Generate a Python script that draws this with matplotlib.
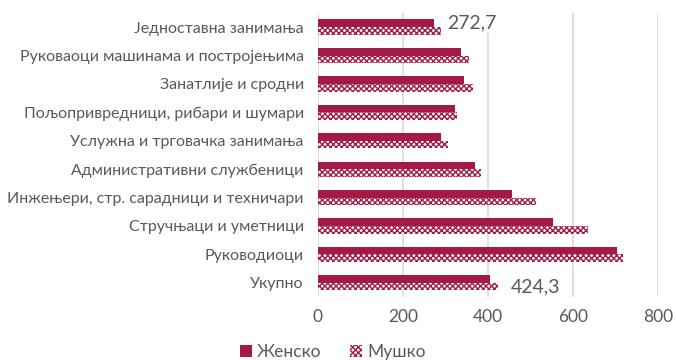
import numpy as np
import matplotlib.pyplot as plt

plt.rcParams['font.family'] = ['Lato', 'Noto Sans', 'DejaVu Sans']
plt.rcParams['hatch.linewidth'] = 1.0

# categories, bottom to top
categories = ['Укупно', 'Руководиоци', 'Стручњаци и уметници',
              'Инжењери, стр. сарадници и техничари', 'Административни службеници',
              'Услужна и трговачка занимања', 'Пољопривредници, рибари и шумари',
              'Занатлије и сродни', 'Руковаоци машинама и постројењима',
              'Једноставна занимања']
female = [406, 704, 554, 457, 369, 291, 324, 345, 338, 272.7]
male = [424.3, 719, 636, 513, 383, 307, 327, 365, 356, 289]

crimson = '#A31B44'
gray = '#595959'

fig = plt.figure(figsize=(6.76, 3.6), dpi=100)
ax = fig.add_axes([0.470, 0.175, 0.503, 0.789])

y = np.arange(len(categories))
h = 0.27
ax.barh(y + h / 2, female, height=h, color=crimson, label='Женско', zorder=3)
ax.barh(y - h / 2, male, height=h, facecolor='white', edgecolor=crimson,
        hatch='xxxxxx', linewidth=0, label='Мушко', zorder=3)

# value labels
box = dict(facecolor='white', edgecolor='none', pad=1)
ax.text(male[-1] + 16, y[-1] + h / 2, '272,7', va='center', ha='left',
        fontsize=14, color=gray, bbox=box, zorder=4)
ax.text(male[0] + 30, y[0] - h / 2, '424,3', va='center', ha='left',
        fontsize=14, color=gray, bbox=box, zorder=4)

ax.set_xlim(0, 800)
ax.set_ylim(-0.5, len(categories) - 0.5)
ax.set_xticks([0, 200, 400, 600, 800])
ax.set_yticks(y)
ax.set_yticklabels(categories, fontsize=11.5)
ax.tick_params(axis='both', length=0, labelcolor=gray)
ax.tick_params(axis='x', labelsize=12.5, pad=9)
ax.tick_params(axis='y', pad=10)
ax.grid(axis='x', color='#D9D9D9', linewidth=1.2, zorder=0)
for s in ax.spines.values():
    s.set_visible(False)

ax.legend(loc='upper center', bbox_to_anchor=(0.044, -0.11), ncol=2,
          frameon=False, fontsize=12.5, labelcolor=gray, handlelength=0.7,
          handleheight=0.7, handletextpad=0.3, columnspacing=1.6)

fig.savefig('out.png', dpi=100)
